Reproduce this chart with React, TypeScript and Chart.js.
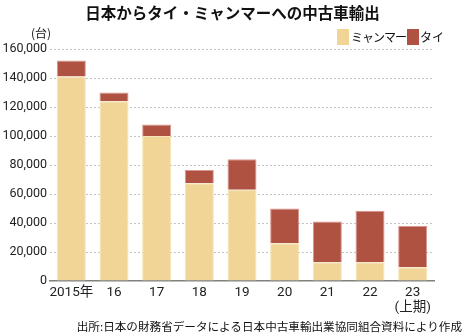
import React, { useEffect, useRef } from "react";
import { Chart, registerables } from "chart.js";

Chart.register(...registerables);

const categories = ["2015年", "16", "17", "18", "19", "20", "21", "22", "23"];
const lastNote = "(上期)";
const myanmar = [141000, 124000, 100000, 67500, 63000, 26000, 13000, 13000, 9500];
const thai = [11000, 6000, 8000, 9000, 21000, 24000, 28000, 35500, 28500];
const yTicks = [0, 20000, 40000, 60000, 80000, 100000, 120000, 140000, 160000];

const seriesNames = ["ミャンマー", "タイ"];
const colors = ["#F0D597", "#B05241"];
const edgeColors = ["#F6E3BA", "#D9968A"];

const numFont = "Roboto, 'Noto Sans CJK JP', sans-serif";
const jpFont = "'Noto Sans CJK JP', sans-serif";

export default function App() {
  const ref = useRef<HTMLCanvasElement | null>(null);

  useEffect(() => {
    if (!ref.current) return;
    const labels = categories.map((c, i) => (i === categories.length - 1 ? [c, lastNote] : c));
    const chart = new Chart(ref.current, {
      type: "bar",
      data: {
        labels,
        datasets: [
          {
            label: seriesNames[0],
            data: myanmar,
            backgroundColor: colors[0],
            borderColor: edgeColors[0],
            borderWidth: 1,
            stack: "s",
          },
          {
            label: seriesNames[1],
            data: thai,
            backgroundColor: colors[1],
            borderColor: edgeColors[1],
            borderWidth: 1,
            stack: "s",
          },
        ],
      },
      options: {
        animation: false,
        responsive: false,
        maintainAspectRatio: false,
        layout: { padding: { top: 49, right: 31, left: 0, bottom: 0 } },
        plugins: { legend: { display: false }, title: { display: false }, tooltip: { enabled: false } },
        datasets: { bar: { categoryPercentage: 1, barPercentage: 0.68 } },
        scales: {
          x: {
            stacked: true,
            grid: { display: false, drawTicks: false },
            border: { display: true, color: "#808080", width: 1.5 },
            ticks: {
              color: "#222",
              font: { family: numFont, size: 13.5, lineHeight: 1.1 },
              padding: 4,
              maxRotation: 0,
              autoSkip: false,
            },
            afterFit: (s: any) => {
              s.height = 55;
            },
          },
          y: {
            stacked: true,
            min: 0,
            max: 160000,
            afterBuildTicks: (s: any) => {
              s.ticks = yTicks.map((v) => ({ value: v }));
            },
            grid: {
              drawTicks: false,
              color: (ctx: any) => (ctx.tick && ctx.tick.value === 0 ? "rgba(0,0,0,0)" : "#c4c4c4"),
              lineWidth: 1,
            },
            border: { display: false, dash: [2, 2] },
            ticks: {
              color: "#222",
              font: { family: numFont, size: 12.5 },
              padding: 3,
              callback: (v: any) => Number(v).toLocaleString("en-US"),
            },
            afterFit: (s: any) => {
              s.width = 50;
            },
          },
        },
      },
    });
    return () => chart.destroy();
  }, []);

  const box: React.CSSProperties = { position: "absolute", display: "inline-block", width: 12, height: 16 };

  return (
    <div style={{ position: "fixed", left: 0, top: 0, width: 465, height: 336, background: "#fff", fontFamily: jpFont, color: "#111" }}>
      <canvas ref={ref} width={465} height={336} style={{ position: "absolute", left: 0, top: 0, width: 465, height: 336 }} />
      <div style={{ position: "absolute", left: 0, top: 1, width: 465, textAlign: "center", fontSize: 15.5, fontWeight: 700, lineHeight: "22px" }}>
        日本からタイ・ミャンマーへの中古車輸出
      </div>
      <div style={{ position: "absolute", left: 31, top: 25, fontSize: 12, lineHeight: "16px" }}>(台)</div>
      <span style={{ ...box, left: 337, top: 29, background: colors[0] }} />
      <div style={{ position: "absolute", left: 351, top: 28, fontSize: 12, lineHeight: "17px", letterSpacing: -1 }}>{seriesNames[0]}</div>
      <span style={{ ...box, left: 407, top: 29, background: colors[1] }} />
      <div style={{ position: "absolute", left: 420, top: 28, fontSize: 12, lineHeight: "17px" }}>{seriesNames[1]}</div>
      <div style={{ position: "absolute", right: 3, top: 318, fontSize: 11.6, lineHeight: "17px", whiteSpace: "nowrap" }}>
        出所:日本の財務省データによる日本中古車輸出業協同組合資料により作成
      </div>
    </div>
  );
}
